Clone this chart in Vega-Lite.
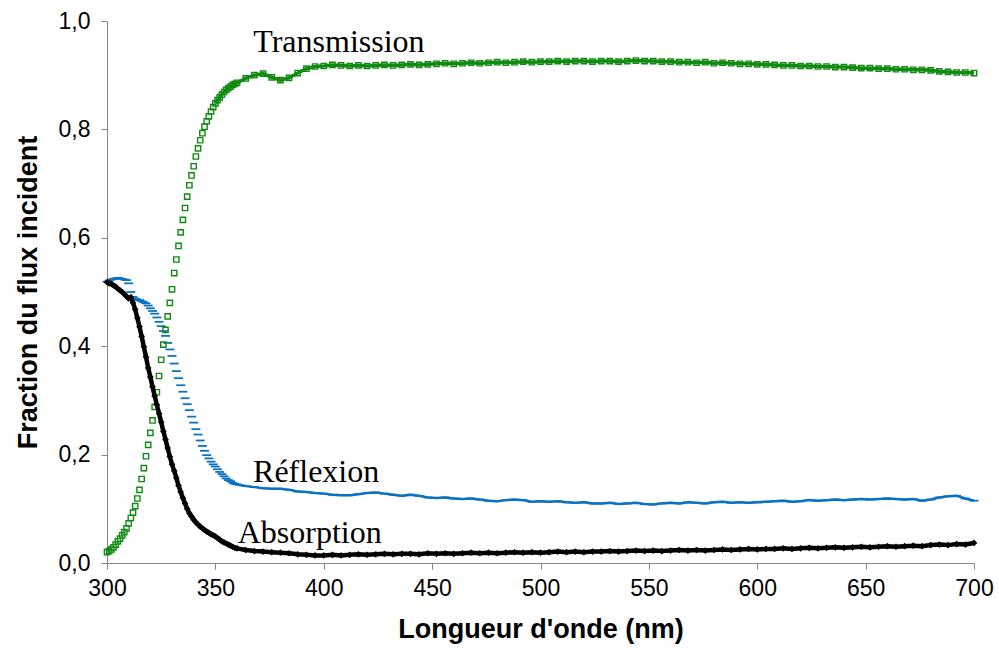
{
  "$schema": "https://vega.github.io/schema/vega-lite/v6.json",
  "autosize": "none",
  "padding": {"left": 107, "top": 21, "right": 25, "bottom": 85},
  "width": 867,
  "height": 542,
  "background": "white",
  "config": {
    "view": {"stroke": null},
    "axis": {
      "grid": false,
      "labelFlush": false,
      "labelOverlap": false,
      "domainColor": "#868686",
      "tickColor": "#868686",
      "tickSize": 6,
      "labelFont": "Liberation Sans",
      "labelFontSize": 23,
      "labelColor": "#000000",
      "titleFont": "Liberation Sans",
      "titleFontSize": 27,
      "titleFontWeight": "bold",
      "titleColor": "#000000"
    }
  },
  "datasets": {
    "spec": [
      {"wl":300,"T":0.020,"R":0.519,"A":0.518},
      {"wl":301,"T":0.022,"R":0.521,"A":0.516},
      {"wl":302,"T":0.025,"R":0.523,"A":0.515},
      {"wl":303,"T":0.029,"R":0.524,"A":0.512},
      {"wl":304,"T":0.034,"R":0.525,"A":0.510},
      {"wl":305,"T":0.040,"R":0.526,"A":0.506},
      {"wl":306,"T":0.045,"R":0.525,"A":0.503},
      {"wl":307,"T":0.051,"R":0.524,"A":0.500},
      {"wl":308,"T":0.057,"R":0.523,"A":0.496},
      {"wl":309,"T":0.064,"R":0.522,"A":0.492},
      {"wl":310,"T":0.073,"R":0.516,"A":0.488},
      {"wl":311,"T":0.083,"R":0.500,"A":0.490},
      {"wl":312,"T":0.093,"R":0.491,"A":0.480},
      {"wl":313,"T":0.105,"R":0.488,"A":0.468},
      {"wl":314,"T":0.119,"R":0.486,"A":0.452},
      {"wl":315,"T":0.135,"R":0.485,"A":0.436},
      {"wl":316,"T":0.155,"R":0.483,"A":0.418},
      {"wl":317,"T":0.175,"R":0.481,"A":0.399},
      {"wl":318,"T":0.197,"R":0.479,"A":0.380},
      {"wl":319,"T":0.218,"R":0.475,"A":0.360},
      {"wl":320,"T":0.240,"R":0.470,"A":0.343},
      {"wl":321,"T":0.263,"R":0.465,"A":0.325},
      {"wl":322,"T":0.288,"R":0.460,"A":0.308},
      {"wl":323,"T":0.315,"R":0.453,"A":0.292},
      {"wl":324,"T":0.345,"R":0.445,"A":0.276},
      {"wl":325,"T":0.375,"R":0.437,"A":0.260},
      {"wl":326,"T":0.403,"R":0.428,"A":0.243},
      {"wl":327,"T":0.430,"R":0.419,"A":0.228},
      {"wl":328,"T":0.455,"R":0.406,"A":0.212},
      {"wl":329,"T":0.480,"R":0.394,"A":0.196},
      {"wl":330,"T":0.505,"R":0.382,"A":0.182},
      {"wl":331,"T":0.535,"R":0.368,"A":0.170},
      {"wl":332,"T":0.560,"R":0.354,"A":0.157},
      {"wl":333,"T":0.585,"R":0.341,"A":0.143},
      {"wl":334,"T":0.610,"R":0.328,"A":0.131},
      {"wl":335,"T":0.633,"R":0.316,"A":0.120},
      {"wl":336,"T":0.655,"R":0.304,"A":0.110},
      {"wl":337,"T":0.676,"R":0.293,"A":0.100},
      {"wl":338,"T":0.697,"R":0.282,"A":0.092},
      {"wl":339,"T":0.715,"R":0.270,"A":0.086},
      {"wl":340,"T":0.732,"R":0.259,"A":0.080},
      {"wl":341,"T":0.750,"R":0.247,"A":0.075},
      {"wl":342,"T":0.765,"R":0.237,"A":0.071},
      {"wl":343,"T":0.780,"R":0.226,"A":0.067},
      {"wl":344,"T":0.793,"R":0.216,"A":0.064},
      {"wl":345,"T":0.805,"R":0.207,"A":0.061},
      {"wl":346,"T":0.815,"R":0.199,"A":0.058},
      {"wl":347,"T":0.824,"R":0.193,"A":0.056},
      {"wl":348,"T":0.833,"R":0.187,"A":0.053},
      {"wl":349,"T":0.841,"R":0.182,"A":0.051},
      {"wl":350,"T":0.848,"R":0.178,"A":0.049},
      {"wl":351,"T":0.854,"R":0.173,"A":0.046},
      {"wl":352,"T":0.859,"R":0.168,"A":0.043},
      {"wl":353,"T":0.864,"R":0.164,"A":0.040},
      {"wl":354,"T":0.869,"R":0.160,"A":0.038},
      {"wl":355,"T":0.873,"R":0.156,"A":0.036},
      {"wl":356,"T":0.876,"R":0.153,"A":0.034},
      {"wl":357,"T":0.879,"R":0.151,"A":0.032},
      {"wl":358,"T":0.882,"R":0.148,"A":0.030},
      {"wl":359,"T":0.884,"R":0.146,"A":0.028},
      {"wl":360,"T":0.886,"R":0.145,"A":0.027},
      {"wl":364,"T":0.894,"R":0.142,"A":0.024},
      {"wl":368,"T":0.900,"R":0.140,"A":0.022},
      {"wl":372,"T":0.903,"R":0.138,"A":0.021},
      {"wl":376,"T":0.896,"R":0.137,"A":0.020},
      {"wl":380,"T":0.891,"R":0.137,"A":0.019},
      {"wl":384,"T":0.895,"R":0.135,"A":0.018},
      {"wl":388,"T":0.904,"R":0.132,"A":0.016},
      {"wl":392,"T":0.912,"R":0.131,"A":0.015},
      {"wl":396,"T":0.916,"R":0.129,"A":0.014},
      {"wl":400,"T":0.917,"R":0.128,"A":0.014},
      {"wl":404,"T":0.919,"R":0.126,"A":0.015},
      {"wl":408,"T":0.918,"R":0.125,"A":0.014},
      {"wl":412,"T":0.917,"R":0.125,"A":0.015},
      {"wl":416,"T":0.918,"R":0.127,"A":0.016},
      {"wl":420,"T":0.917,"R":0.129,"A":0.015},
      {"wl":424,"T":0.918,"R":0.130,"A":0.016},
      {"wl":428,"T":0.919,"R":0.128,"A":0.017},
      {"wl":432,"T":0.918,"R":0.126,"A":0.016},
      {"wl":436,"T":0.919,"R":0.124,"A":0.017},
      {"wl":440,"T":0.920,"R":0.126,"A":0.017},
      {"wl":444,"T":0.919,"R":0.124,"A":0.016},
      {"wl":448,"T":0.920,"R":0.121,"A":0.018},
      {"wl":452,"T":0.921,"R":0.120,"A":0.017},
      {"wl":456,"T":0.922,"R":0.121,"A":0.018},
      {"wl":460,"T":0.921,"R":0.119,"A":0.017},
      {"wl":464,"T":0.922,"R":0.118,"A":0.018},
      {"wl":468,"T":0.923,"R":0.119,"A":0.019},
      {"wl":472,"T":0.922,"R":0.117,"A":0.018},
      {"wl":476,"T":0.923,"R":0.115,"A":0.019},
      {"wl":480,"T":0.924,"R":0.114,"A":0.018},
      {"wl":484,"T":0.923,"R":0.116,"A":0.019},
      {"wl":488,"T":0.924,"R":0.117,"A":0.020},
      {"wl":492,"T":0.925,"R":0.116,"A":0.019},
      {"wl":496,"T":0.924,"R":0.113,"A":0.020},
      {"wl":500,"T":0.925,"R":0.114,"A":0.019},
      {"wl":504,"T":0.925,"R":0.113,"A":0.020},
      {"wl":508,"T":0.926,"R":0.114,"A":0.021},
      {"wl":512,"T":0.925,"R":0.112,"A":0.020},
      {"wl":516,"T":0.926,"R":0.111,"A":0.021},
      {"wl":520,"T":0.926,"R":0.112,"A":0.020},
      {"wl":524,"T":0.925,"R":0.110,"A":0.021},
      {"wl":528,"T":0.926,"R":0.110,"A":0.021},
      {"wl":532,"T":0.926,"R":0.111,"A":0.022},
      {"wl":536,"T":0.925,"R":0.109,"A":0.021},
      {"wl":540,"T":0.926,"R":0.110,"A":0.022},
      {"wl":544,"T":0.927,"R":0.111,"A":0.023},
      {"wl":548,"T":0.926,"R":0.109,"A":0.022},
      {"wl":552,"T":0.926,"R":0.108,"A":0.023},
      {"wl":556,"T":0.925,"R":0.110,"A":0.022},
      {"wl":560,"T":0.925,"R":0.111,"A":0.023},
      {"wl":564,"T":0.924,"R":0.110,"A":0.024},
      {"wl":568,"T":0.924,"R":0.112,"A":0.023},
      {"wl":572,"T":0.923,"R":0.111,"A":0.024},
      {"wl":576,"T":0.924,"R":0.110,"A":0.023},
      {"wl":580,"T":0.922,"R":0.112,"A":0.024},
      {"wl":584,"T":0.923,"R":0.113,"A":0.025},
      {"wl":588,"T":0.922,"R":0.111,"A":0.024},
      {"wl":592,"T":0.921,"R":0.112,"A":0.025},
      {"wl":596,"T":0.921,"R":0.111,"A":0.026},
      {"wl":600,"T":0.920,"R":0.112,"A":0.025},
      {"wl":604,"T":0.920,"R":0.113,"A":0.026},
      {"wl":608,"T":0.919,"R":0.114,"A":0.026},
      {"wl":612,"T":0.918,"R":0.115,"A":0.027},
      {"wl":616,"T":0.918,"R":0.113,"A":0.026},
      {"wl":620,"T":0.917,"R":0.114,"A":0.027},
      {"wl":624,"T":0.917,"R":0.116,"A":0.028},
      {"wl":628,"T":0.916,"R":0.115,"A":0.027},
      {"wl":632,"T":0.916,"R":0.116,"A":0.028},
      {"wl":636,"T":0.915,"R":0.117,"A":0.029},
      {"wl":640,"T":0.915,"R":0.116,"A":0.028},
      {"wl":644,"T":0.914,"R":0.117,"A":0.029},
      {"wl":648,"T":0.913,"R":0.118,"A":0.030},
      {"wl":652,"T":0.913,"R":0.117,"A":0.029},
      {"wl":656,"T":0.912,"R":0.118,"A":0.030},
      {"wl":660,"T":0.912,"R":0.119,"A":0.031},
      {"wl":664,"T":0.911,"R":0.118,"A":0.030},
      {"wl":668,"T":0.911,"R":0.117,"A":0.031},
      {"wl":672,"T":0.910,"R":0.118,"A":0.032},
      {"wl":676,"T":0.910,"R":0.115,"A":0.031},
      {"wl":680,"T":0.909,"R":0.117,"A":0.033},
      {"wl":684,"T":0.907,"R":0.121,"A":0.034},
      {"wl":688,"T":0.906,"R":0.123,"A":0.033},
      {"wl":692,"T":0.905,"R":0.124,"A":0.035},
      {"wl":696,"T":0.905,"R":0.119,"A":0.034},
      {"wl":700,"T":0.904,"R":0.115,"A":0.037}
    ],
    "labels": [
      {"label": "Transmission", "wl": 407, "v": 0.961},
      {"label": "Réflexion", "wl": 396.5, "v": 0.168},
      {"label": "Absorption", "wl": 393.5, "v": 0.055}
    ]
  },
  "encoding": {
    "x": {
      "field": "wl", "type": "quantitative",
      "scale": {"domain": [300, 700], "nice": false, "zero": false},
      "axis": {"values": [300,350,400,450,500,550,600,650,700], "title": "Longueur d'onde (nm)", "labelPadding": 8, "titlePadding": 16}
    }
  },
  "layer": [
    {
      "data": {"name": "spec"},
      "mark": {"type": "point", "shape": "M-1,-0.2H1V0.2H-1Z", "filled": true, "color": "#0a72c4", "size": 80, "opacity": 1},
      "encoding": {
        "y": {
          "field": "R", "type": "quantitative",
          "scale": {"domain": [0, 1], "nice": false},
          "axis": {"values": [0,0.2,0.4,0.6,0.8,1.0], "labelExpr": "replace(format(datum.value, '.1f'), '.', ',')", "title": "Fraction du flux incident", "labelPadding": 11, "titlePadding": 16}
        }
      }
    },
    {
      "data": {"name": "spec"},
      "transform": [{"filter": "datum.wl >= 356"}],
      "mark": {"type": "line", "color": "#0a72c4", "strokeWidth": 2.5},
      "encoding": {"y": {"field": "R", "type": "quantitative"}}
    },
    {
      "data": {"name": "spec"},
      "transform": [{"filter": "datum.wl >= 350"}],
      "mark": {"type": "line", "color": "#108a10", "strokeWidth": 3.5},
      "encoding": {"y": {"field": "T", "type": "quantitative"}}
    },
    {
      "data": {"name": "spec"},
      "mark": {"type": "point", "shape": "square", "filled": false, "color": "#108a10", "strokeWidth": 1.4, "size": 28, "opacity": 1},
      "encoding": {"y": {"field": "T", "type": "quantitative"}}
    },
    {
      "data": {"name": "spec"},
      "mark": {"type": "line", "color": "#000000", "strokeWidth": 4.5},
      "encoding": {"y": {"field": "A", "type": "quantitative"}}
    },
    {
      "data": {"name": "spec"},
      "mark": {"type": "point", "shape": "diamond", "filled": true, "color": "#000000", "size": 45, "opacity": 1},
      "encoding": {"y": {"field": "A", "type": "quantitative"}}
    },
    {
      "data": {"name": "labels"},
      "mark": {"type": "text", "font": "Liberation Serif", "fontSize": 32, "color": "#000000", "align": "center", "baseline": "middle"},
      "encoding": {
        "y": {"field": "v", "type": "quantitative"},
        "text": {"field": "label"}
      }
    }
  ]
}
